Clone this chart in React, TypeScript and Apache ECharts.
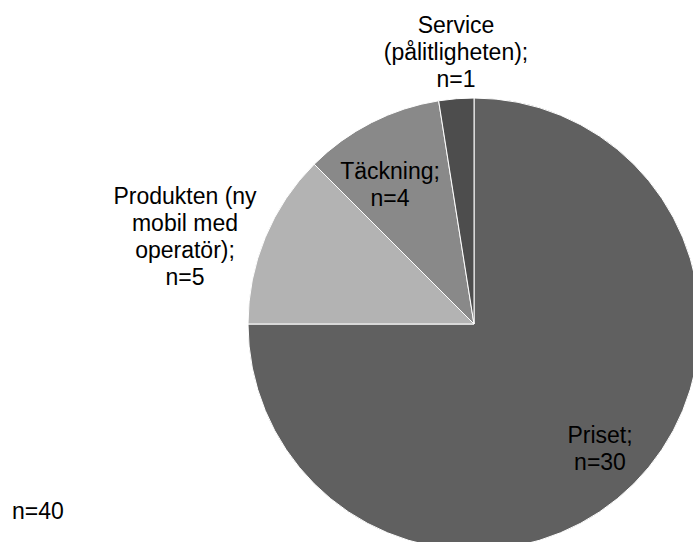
import React, { useEffect, useRef } from "react";
import * as echarts from "echarts";

const categories = [
  "Priset",
  "Produkten (ny\nmobil med\noperatör)",
  "Täckning",
  "Service\n(pålitligheten)",
];
const values = [30, 5, 4, 1];
const totalLabel = "n=40";

const sliceColors = ["#606060", "#b3b3b3", "#898989", "#4d4d4d"];
const labelCenters: [number, number][] = [
  [600, 448],
  [185, 236],
  [390, 184],
  [456, 52],
];

const FONT = "'Liberation Sans', Arial, sans-serif";

export default function App() {
  const ref = useRef<HTMLDivElement>(null);
  useEffect(() => {
    document.body.style.margin = "0";
    const chart = echarts.init(ref.current!, null, { renderer: "svg" });
    chart.setOption({
      animation: false,
      backgroundColor: "#ffffff",
      graphic: [
        {
          type: "text",
          left: 12,
          top: 499,
          style: {
            text: totalLabel,
            font: `23px ${FONT}`,
            fill: "#000000",
          },
        },
      ],
      series: [
        {
          type: "pie",
          center: [474, 324],
          radius: 226,
          startAngle: 90,
          clockwise: true,
          avoidLabelOverlap: false,
          itemStyle: { borderColor: "#ffffff", borderWidth: 1 },
          label: {
            show: true,
            position: "inside",
            formatter: "{b};\nn={c}",
            color: "#000000",
            fontFamily: FONT,
            fontSize: 23,
            lineHeight: 27,
            align: "center",
          },
          labelLine: { show: false },
          labelLayout: (params: any) => ({
            x: labelCenters[params.dataIndex][0],
            y: labelCenters[params.dataIndex][1],
            align: "center",
            verticalAlign: "middle",
          }),
          emphasis: { disabled: true },
          data: categories.map((name, i) => ({
            name,
            value: values[i],
            itemStyle: { color: sliceColors[i] },
          })),
        },
      ],
    });
    return () => chart.dispose();
  }, []);
  return <div ref={ref} style={{ width: 693, height: 542 }} />;
}
